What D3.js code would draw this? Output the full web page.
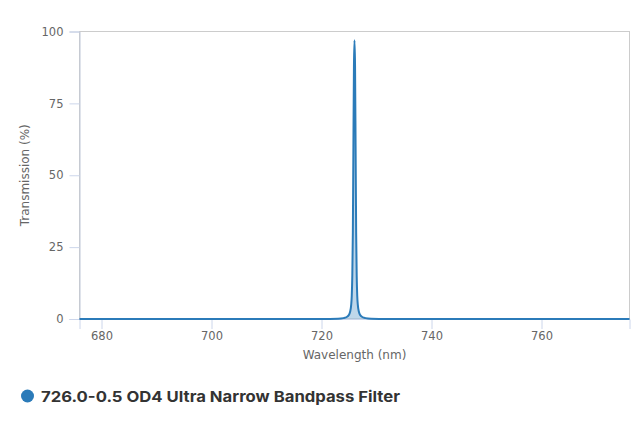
<!DOCTYPE html>
<html><head><meta charset="utf-8">
<script src="https://cdn.jsdelivr.net/npm/d3@7"></script>
<style>
html,body{margin:0;padding:0;background:#fff;}
svg{display:block;}
</style></head>
<body>
<svg id="c" width="640" height="427"></svg>
<script>
const seriesName = "726.0-0.5 OD4 Ultra Narrow Bandpass Filter";
const wavelengths = [676, 700, 720, 723, 724, 724.5, 725, 725.2, 725.4, 725.5, 725.6, 725.7, 725.8, 725.9, 726.0, 726.1, 726.2, 726.3, 726.4, 726.5, 726.6, 726.8, 727, 727.5, 728, 729, 732, 750, 776];
const transmission = [0, 0, 0.02, 0.1, 0.3, 0.6, 1.5, 2.5, 5, 8, 15, 30, 60, 88, 97, 88, 60, 30, 15, 8, 5, 2.5, 1.5, 0.6, 0.3, 0.1, 0.02, 0, 0];
const xTicks = [680, 700, 720, 740, 760];
const yTicks = [0, 25, 50, 75, 100];

const svg = d3.select("#c");
const L = 79.5, R = 629.5, T = 31.5, B = 319;
const x = d3.scaleLinear().domain([676, 776]).range([L, R]);
const y = d3.scaleLinear().domain([0, 100]).range([B, T]);
const data = wavelengths.map((w, i) => ({w, t: transmission[i]}));
const FONT = "'DejaVu Sans', Verdana, sans-serif";

// plot border
svg.append("rect").attr("x", L).attr("y", T).attr("width", R - L).attr("height", B - T)
  .attr("fill", "none").attr("stroke", "#cccccc").attr("stroke-width", 1);

// y axis
const yAxis = d3.axisLeft(y).tickValues(yTicks).tickSize(10).tickPadding(6);
const gy = svg.append("g").attr("transform", `translate(${L},0)`).call(yAxis);
gy.select(".domain").attr("stroke", "#c0c8d8");
gy.selectAll(".tick line").attr("stroke", "#ccd6eb");
gy.selectAll(".tick text").attr("fill", "#666").attr("font-family", FONT).attr("font-size", 11.5);

// x axis
const xAxis = d3.axisBottom(x).tickValues(xTicks).tickSize(10).tickPadding(3);
const gx = svg.append("g").attr("transform", `translate(0,${B})`).call(xAxis);
gx.select(".domain").attr("stroke", "#ccd6eb");
gx.selectAll(".tick line").attr("stroke", "#ccd6eb");
gx.selectAll(".tick text").attr("fill", "#666").attr("font-family", FONT).attr("font-size", 11.5);

// area + line
const area = d3.area().x(d => x(d.w)).y0(y(0)).y1(d => y(d.t)).curve(d3.curveMonotoneX);
const line = d3.line().x(d => x(d.w)).y(d => y(d.t)).curve(d3.curveMonotoneX);
svg.append("path").datum(data).attr("d", area).attr("fill", "rgba(43,123,185,0.3)");
svg.append("path").datum(data).attr("d", line).attr("fill", "none")
  .attr("stroke", "#2b7bb9").attr("stroke-width", 2).attr("stroke-linejoin", "round");

// axis titles
svg.append("text").attr("x", (L + R) / 2).attr("y", 359).attr("text-anchor", "middle")
  .attr("font-family", FONT).attr("font-size", 12).attr("fill", "#666")
  .text("Wavelength (nm)");
svg.append("text").attr("transform", `translate(29,${(T + B) / 2}) rotate(-90)`).attr("text-anchor", "middle")
  .attr("font-family", FONT).attr("font-size", 12).attr("fill", "#666")
  .text("Transmission (%)");

// legend
svg.append("circle").attr("cx", 27.5).attr("cy", 396).attr("r", 6.5).attr("fill", "#2b7bb9");
svg.append("text").attr("x", 41).attr("y", 401.5).attr("font-family", "Inter, sans-serif")
  .attr("font-weight", 700).attr("font-size", 15).attr("fill", "#333")
  .attr("textLength", 359).attr("lengthAdjust", "spacingAndGlyphs")
  .text(seriesName);
</script>
</body></html>
